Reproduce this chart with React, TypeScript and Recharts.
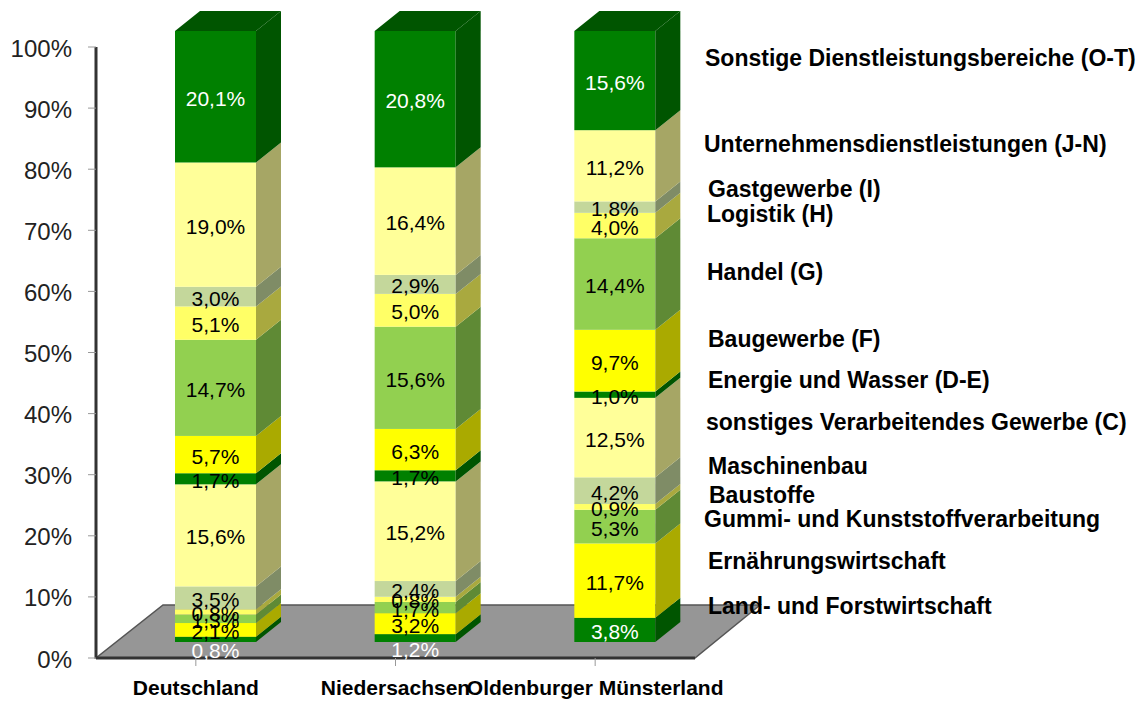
import React from 'react';
import { BarChart, Bar, XAxis, YAxis, LabelList } from 'recharts';

const countries = ['Deutschland', 'Niedersachsen', 'Oldenburger Münsterland'];

// one list per sector, same order as countries (in percent, as printed on the bars)
const land = [0.8, 1.2, 3.8];
const ernaehrung = [2.1, 3.2, 11.7];
const gummi = [1.3, 1.7, 5.3];
const baustoffe = [0.8, 0.8, 0.9];
const maschinenbau = [3.5, 2.4, 4.2];
const verarbeitend = [15.6, 15.2, 12.5];
const energie = [1.7, 1.7, 1.0];
const bau = [5.7, 6.3, 9.7];
const handel = [14.7, 15.6, 14.4];
const logistik = [5.1, 5.0, 4.0];
const gast = [3.0, 2.9, 1.8];
const unternehmen = [19.0, 16.4, 11.2];
const sonstige = [20.1, 20.8, 15.6];

const yTicks = [0, 0.1, 0.2, 0.3, 0.4, 0.5, 0.6, 0.7, 0.8, 0.9, 1];

const GREEN = { front: '#008000', side: '#005500', text: '#fff' };
const YELLOW = { front: '#ffff00', side: '#aaaa00', text: '#000' };
const LEMON = { front: '#ffff66', side: '#a9a93f', text: '#000' };
const PALE = { front: '#ffff99', side: '#a6a665', text: '#000' };
const LIME = { front: '#92d050', side: '#5f8a35', text: '#000' };
const SAGE = { front: '#c4d79b', side: '#7f8c66', text: '#000' };

const series = [
  { key: 'land', name: 'Land- und Forstwirtschaft', values: land, color: GREEN, labelX: 708, labelY: 614 },
  { key: 'ernaehrung', name: 'Ernährungswirtschaft', values: ernaehrung, color: YELLOW, labelX: 708, labelY: 569 },
  { key: 'gummi', name: 'Gummi- und Kunststoffverarbeitung', values: gummi, color: LIME, labelX: 704, labelY: 527 },
  { key: 'baustoffe', name: 'Baustoffe', values: baustoffe, color: LEMON, labelX: 709, labelY: 503 },
  { key: 'maschinenbau', name: 'Maschinenbau', values: maschinenbau, color: SAGE, labelX: 708, labelY: 474 },
  { key: 'verarbeitend', name: 'sonstiges Verarbeitendes Gewerbe (C)', values: verarbeitend, color: PALE, labelX: 706, labelY: 430 },
  { key: 'energie', name: 'Energie und Wasser (D-E)', values: energie, color: { ...GREEN, text: '#000' }, labelX: 708, labelY: 388 },
  { key: 'bau', name: 'Baugewerbe (F)', values: bau, color: YELLOW, labelX: 708, labelY: 347 },
  { key: 'handel', name: 'Handel (G)', values: handel, color: LIME, labelX: 707, labelY: 280 },
  { key: 'logistik', name: 'Logistik (H)', values: logistik, color: LEMON, labelX: 707, labelY: 222 },
  { key: 'gast', name: 'Gastgewerbe (I)', values: gast, color: SAGE, labelX: 708, labelY: 197 },
  { key: 'unternehmen', name: 'Unternehmensdienstleistungen (J-N)', values: unternehmen, color: PALE, labelX: 704, labelY: 152 },
  { key: 'sonstige', name: 'Sonstige Dienstleistungsbereiche (O-T)', values: sonstige, color: GREEN, labelX: 705, labelY: 66 },
];

const data = countries.map((c, i) => {
  const row: any = { country: c };
  series.forEach((s) => (row[s.key] = s.values[i]));
  return row;
});

const FONT = '"Liberation Sans", Arial, sans-serif';
// the bars stand on the floor, so they sit shifted from the axis
const SHIFT_X = 20;
const SHIFT_Y = -16;
const DEPTH_X = 25;
const DEPTH_Y = -20;

const makeShape = (color: any, isTop: boolean) => (props: any) => {
  const x = props.x + SHIFT_X;
  const y = props.y + SHIFT_Y;
  const { width, height } = props;
  const r = x + width;
  const b = y + height;
  return (
    <g>
      <rect x={x} y={y} width={width} height={height} fill={color.front} />
      <polygon
        points={`${r},${y} ${r + DEPTH_X},${y + DEPTH_Y} ${r + DEPTH_X},${b + DEPTH_Y} ${r},${b}`}
        fill={color.side}
      />
      {isTop && (
        <polygon
          points={`${x},${y} ${x + DEPTH_X},${y + DEPTH_Y} ${r + DEPTH_X},${y + DEPTH_Y} ${r},${y}`}
          fill={color.side}
        />
      )}
    </g>
  );
};

const makeLabel = (color: any) => (props: any) => {
  const { x, y, width, height, value } = props;
  // the thin land segments print their value below the bar
  const below = height < 12 && color === GREEN;
  return (
    <text
      x={x + SHIFT_X + width / 2}
      y={y + SHIFT_Y + height / 2 + (below ? 19 : 9)}
      textAnchor="middle"
      fontSize={21}
      fontFamily={FONT}
      fill={color.text}
    >
      {Number(value).toFixed(1).replace('.', ',') + '%'}
    </text>
  );
};

const layer: React.CSSProperties = { position: 'absolute', left: 0, top: 0 };

export default function App() {
  return (
    <div style={{ position: 'fixed', left: 0, top: 0, width: 1145, height: 702, background: '#fff' }}>
      <svg width={1145} height={702} style={layer}>
        <polygon points="96,658 695,658 760,605 163,605" fill="#969696" stroke="#555" strokeWidth={1.5} />
      </svg>
      <div style={layer}>
        <BarChart
          width={1145}
          height={702}
          data={data}
          stackOffset="expand"
          barSize={81}
          margin={{ top: 47, right: 450, bottom: 0, left: 0 }}
        >
          <XAxis
            dataKey="country"
            height={44}
            axisLine={{ stroke: '#333', strokeWidth: 3 }}
            tickLine={{ stroke: '#999' }}
            tickSize={8}
            interval={0}
            tick={{ fontSize: 21, fontWeight: 'bold', fontFamily: FONT, fill: '#000', dy: 12 }}
          />
          <YAxis
            width={96}
            domain={[0, 1]}
            ticks={yTicks}
            axisLine={{ stroke: '#333', strokeWidth: 3 }}
            tickLine={{ stroke: '#999' }}
            tickSize={8}
            tickFormatter={(v: number) => `${Math.round(v * 100)}%`}
            tick={{ fontSize: 24, fontFamily: FONT, fill: '#222', dx: -14, dy: 1 }}
          />
          {series.map((s, i) => (
            <Bar
              key={s.key}
              dataKey={s.key}
              stackId="a"
              isAnimationActive={false}
              shape={makeShape(s.color, i === series.length - 1)}
            >
              <LabelList dataKey={s.key} content={makeLabel(s.color)} />
            </Bar>
          ))}
        </BarChart>
      </div>
      <svg width={1145} height={702} style={layer}>
        {series.map((s) => (
          <text key={s.key} x={s.labelX} y={s.labelY} fontSize={23} fontWeight="bold" fontFamily={FONT} fill="#000">
            {s.name}
          </text>
        ))}
      </svg>
    </div>
  );
}
